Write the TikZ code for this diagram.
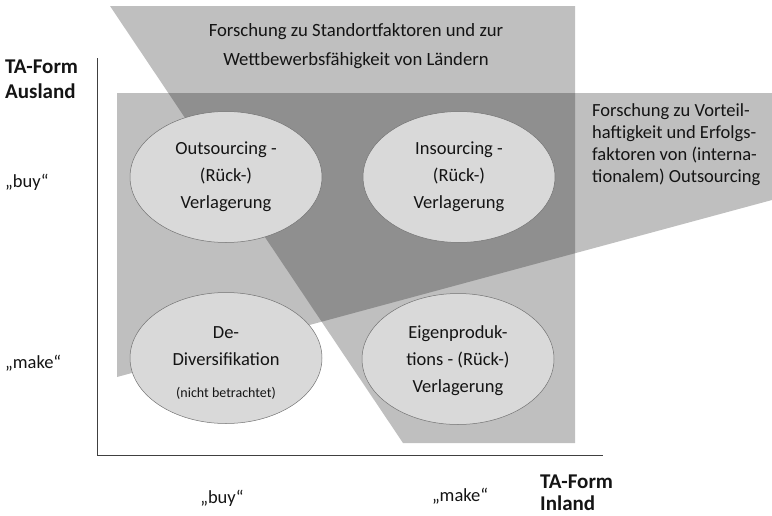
\documentclass[tikz,border=0pt]{standalone}
\usepackage{fontspec}
\setmainfont{Carlito}
\usetikzlibrary{shapes.geometric}
\definecolor{lightg}{gray}{0.75}
\definecolor{darkg}{gray}{0.56}
\definecolor{ellfill}{gray}{0.85}
\definecolor{ellline}{gray}{0.45}
\definecolor{txt}{gray}{0.08}
\begin{document}
\begin{tikzpicture}[x=1pt,y=-1pt,
  quad/.style={ellipse, draw=ellline, line width=0.5pt, fill=ellfill,
    minimum width=192pt, minimum height=131pt, inner sep=0pt, align=center,
    font=\fontsize{18.5}{27}\selectfont, text=txt},
  lbl/.style={inner sep=0pt, text=txt, font=\fontsize{18.5}{22}\selectfont},
  bold/.style={inner sep=0pt, text=txt, font=\bfseries\fontsize{21}{24}\selectfont},
  axisline/.style={draw=black!75, line width=0.9pt}]
\useasboundingbox (0,0) rectangle (772,515);
% research areas
\fill[lightg] (110,6) -- (575,6) -- (575,443) -- (403,443) -- cycle;
\fill[lightg] (117,93) -- (772,93) -- (772,200) -- (117,377) -- cycle;
\begin{scope}
  \clip (110,6) -- (575,6) -- (575,443) -- (403,443) -- cycle;
  \fill[darkg] (117,93) -- (772,93) -- (772,200) -- (117,377) -- cycle;
\end{scope}
% axes
\coordinate (ytop) at (97,58);
\coordinate (orig) at (97,455);
\coordinate (xend) at (603,455);
\draw[axisline] (ytop) -- (orig) -- (xend);
% area labels
\node[lbl, align=center, font=\fontsize{18.7}{28.5}\selectfont] (std) at (356,46)
  {Forschung zu Standortfaktoren und zur\\Wettbewerbsfähigkeit von Ländern};
\node[lbl, align=left, anchor=west, font=\fontsize{18.5}{22}\selectfont] (vor) at (592,145)
  {Forschung zu Vorteil-\\haftigkeit und Erfolgs-\\faktoren von (interna-\\tionalem) Outsourcing};
% quadrants
\node[quad] (out) at (226,177) {Outsourcing -\\(Rück-)\\Verlagerung};
\node[quad] (ins) at (459,177) {Insourcing -\\(Rück-)\\Verlagerung};
\node[quad] (div) at (226,358) {\rule{0pt}{22pt}De-\\Diversifikation\\[5pt]{\fontsize{14}{16}\selectfont (nicht betrachtet)}};
\node[quad] (eig) at (458,359) {\rule{0pt}{17pt}Eigenproduk-\\tions - (Rück-)\\Verlagerung};
% axis labels
\node[bold, anchor=base west] (ya1) at (5,73) {TA-Form};
\node[bold, anchor=base west] (ya2) at (5,98) {Ausland};
\node[lbl, anchor=base west] (ybuy) at (5,187) {„buy“};
\node[lbl, anchor=base west] (ymake) at (5,368) {„make“};
\node[lbl, anchor=base] (xbuy) at (222,503) {„buy“};
\node[lbl, anchor=base] (xmake) at (460,501) {„make“};
\node[bold, anchor=base west] (xa1) at (540,488) {TA-Form};
\node[bold, anchor=base west] (xa2) at (540,510) {Inland};
\end{tikzpicture}
\end{document}
